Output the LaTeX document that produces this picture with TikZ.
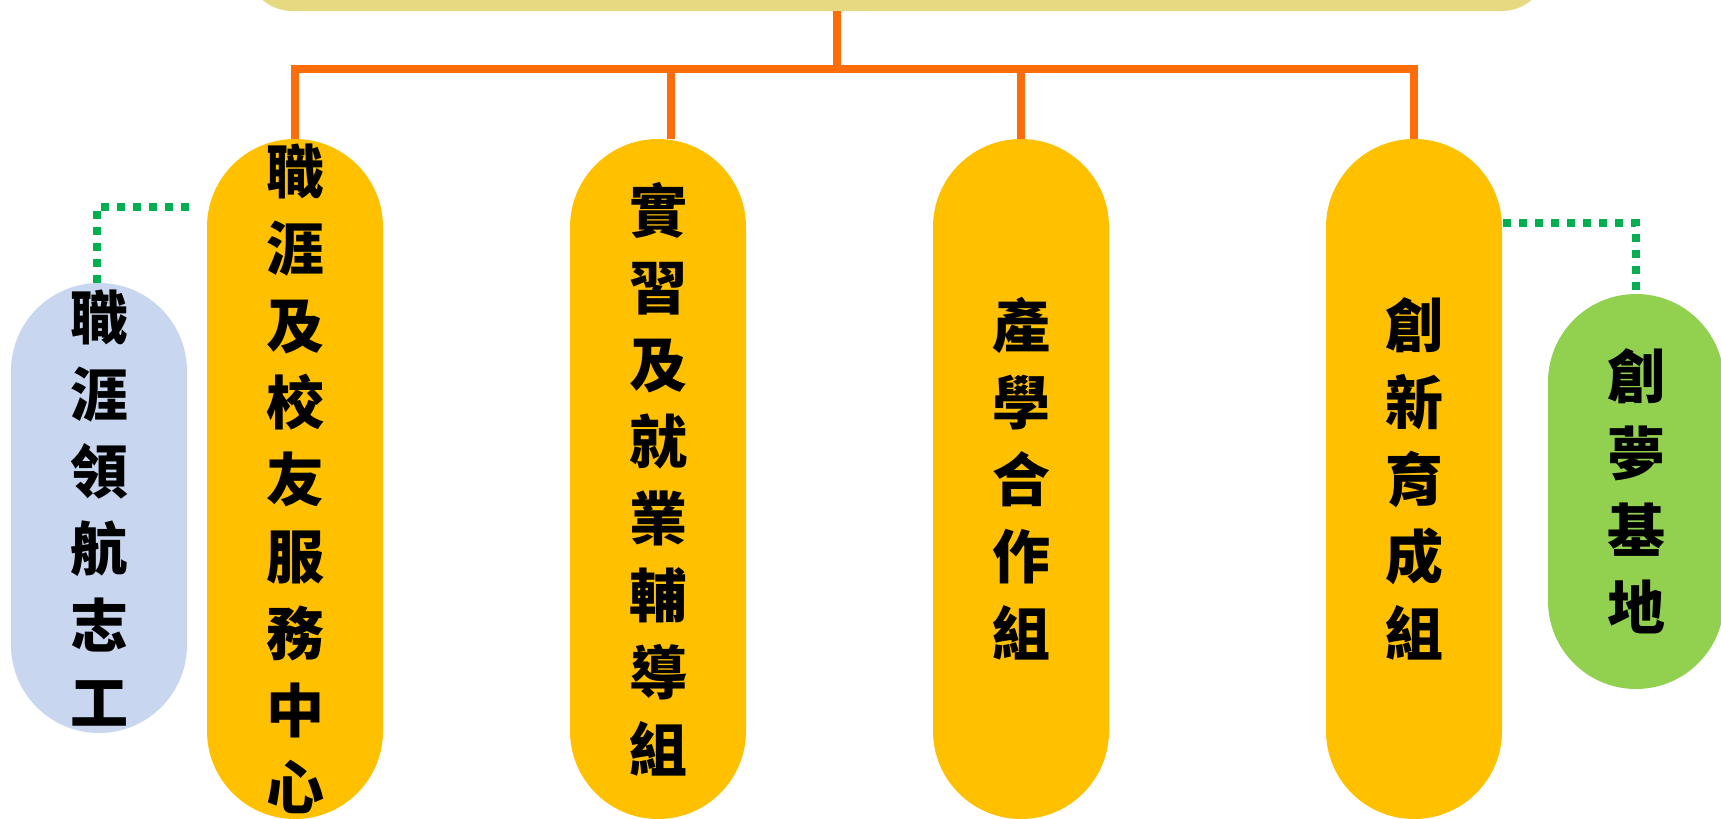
\documentclass[tikz,border=0pt]{standalone}
\usepackage{fontspec}
\newfontfamily\cjk{Noto Sans CJK TC}
\definecolor{topc}{RGB}{230,217,130}
\definecolor{orgc}{RGB}{255,108,10}
\definecolor{goldc}{RGB}{255,192,0}
\definecolor{bluec}{RGB}{200,215,239}
\definecolor{greenc}{RGB}{146,208,80}
\definecolor{dotc}{RGB}{0,176,80}
\begin{document}
\begin{tikzpicture}[x=1pt,y=-1pt,
  pill/.style={rectangle, rounded corners=88pt, minimum width=176pt, inner sep=0pt,
    align=center, font=\cjk\bfseries\fontsize{58}{77}\selectfont},
  org/.style={draw=orgc, line width=7.5pt, line join=miter},
  dotline/.style={draw=dotc, line width=7.5pt, dash pattern=on 7.5pt off 8.5pt}]
\useasboundingbox (0,0) rectangle (1721,819);
\clip (0,0) rectangle (1721,819);
\node[fill=topc, rounded corners=45pt, minimum width=1300pt, minimum height=120pt, inner sep=0pt] (top) at (897,-49) {};
\node[pill, fill=goldc, minimum height=680pt] (p1) at (295,479) {職\\涯\\及\\校\\友\\服\\務\\中\\心};
\node[pill, fill=goldc, minimum height=680pt] (p2) at (658,479) {實\\習\\及\\就\\業\\輔\\導\\組};
\node[pill, fill=goldc, minimum height=680pt] (p3) at (1021,479) {產\\學\\合\\作\\組};
\node[pill, fill=goldc, minimum height=680pt] (p4) at (1414,479) {創\\新\\育\\成\\組};
\node[pill, fill=bluec, minimum height=450pt] (b) at (99,508) {職\\涯\\領\\航\\志\\工};
\node[pill, fill=greenc, minimum height=395pt] (g) at (1636,491.5) {創\\夢\\基\\地};
\coordinate (tc) at (837,11);
\coordinate (bus) at (837,69);
\coordinate (d2) at (671,139);
\draw[org] (tc) -- (bus);
\draw[org] (p1.north) -- (p1.north |- bus) -- (p4.north |- bus) -- (p4.north);
\draw[org] (d2) -- (d2 |- bus);
\draw[org] (p3.north) -- (p3.north |- bus);
\coordinate (c1) at (197,207);
\coordinate (c2) at (1503,223);
\draw[dotline] ([xshift=-2pt]b.north) |- (c1);
\draw[dotline] (c2) -| (g.north);
\end{tikzpicture}
\end{document}
